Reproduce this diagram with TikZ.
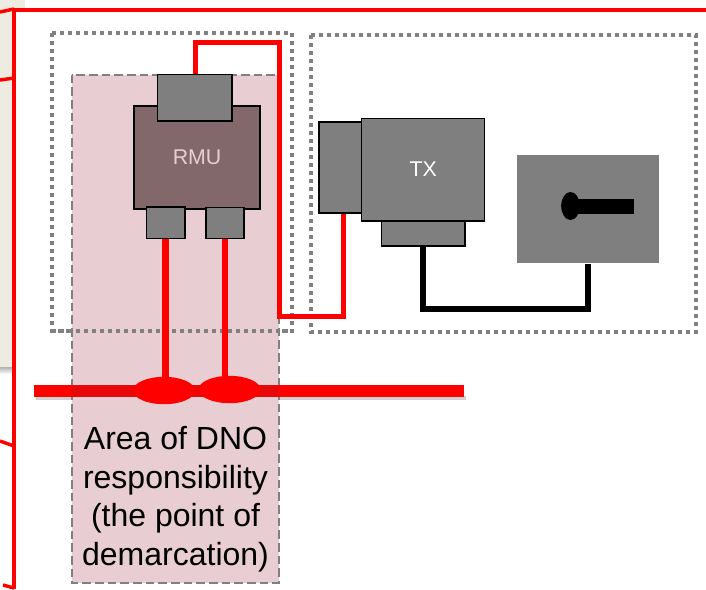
\documentclass[tikz,border=0pt]{standalone}
\usepackage{fontspec}
\setmainfont{Liberation Sans}
\usetikzlibrary{shapes.geometric}
\definecolor{beige}{RGB}{238,236,225}
\definecolor{pinkbox}{RGB}{232,206,210}
\definecolor{rmubody}{RGB}{130,104,106}
\definecolor{greybox}{RGB}{127,127,127}
\definecolor{dotgrey}{RGB}{128,128,128}
\definecolor{redline}{RGB}{255,0,0}
\definecolor{busdark}{RGB}{232,8,10}
\tikzset{
 x=0.75pt,y=-0.75pt,
 redwire/.style={draw=redline,line width=3.9pt,line cap=butt,line join=miter},
 thinred/.style={draw=redline,line width=2.6pt},
 blackwire/.style={draw=black,line width=3.8pt,line join=miter},
 part/.style={draw=black,line width=1.2pt,fill=greybox,inner sep=0pt,anchor=north west},
 softshadow/.style={draw=black!18,line width=#1},
 dotbox/.style={draw=dotgrey,line width=3pt,dash pattern=on 3pt off 3pt},
 dashbox/.style={draw=dotgrey,fill=pinkbox,line width=1.5pt,dash pattern=on 6.5pt off 3pt},
 joint/.style={ellipse,fill=redline,draw=none,inner sep=0pt,minimum width=46.5pt,minimum height=20.5pt},
 lab/.style={font=\fontsize{16pt}{19pt}\selectfont}
}
\begin{document}
\begin{tikzpicture}
\useasboundingbox (0,0) rectangle (706,589);
\fill[white] (0,0) rectangle (706,589);
\fill[beige] (0,0) rectangle (25,8);
\fill[beige] (0,8) rectangle (14,367);
\shade[top color=black!30,bottom color=white] (0,367) rectangle (14,374);
% frame
\draw[thinred,line width=3.2pt] (706,10) -- (14,10) -- (14,589);
\draw[thinred] (0,12) -- (14,9);
\draw[thinred] (0,80) -- (14,78);
\draw[thinred] (0,441) -- (14,446);
\draw[thinred] (3,585) -- (14,588);
% dotted boxes
\draw[dotbox] (52,33) rectangle (292,331);
\draw[dotbox] (311,35) rectangle (696,332);
% pink area
\draw[dashbox] (71.5,74.5) rectangle (279,583);
\draw[dotbox] (52,331) -- (292,331);
% bus
\draw[softshadow=3pt] (36,398) -- (71,398);
\draw[softshadow=3pt] (280,398) -- (466,398);
\draw[redwire,line width=9pt] (34,390.5) -- (464,390.5);
\fill[busdark] (71.5,384.5) rectangle (279,396.5);
\coordinate (busL) at (167,390);
\coordinate (busR) at (225,390);
% nodes
\node[part,fill=rmubody,line width=1.4pt,minimum width=94.3pt,minimum height=77pt,text=pinkbox,lab] (rmu) at (133.3,105.3) {RMU};
\node[part,minimum width=55.8pt,minimum height=34.6pt] (top) at (156.8,73.8) {};
\node[part,minimum width=28.6pt,minimum height=23.6pt] (sw1) at (145.8,206.3) {};
\node[part,minimum width=28.6pt,minimum height=23.2pt] (sw2) at (205.3,206.8) {};
\node[part,minimum width=32pt,minimum height=68pt] (txl) at (318.3,121.3) {};
\node[part,minimum width=62.6pt,minimum height=18.7pt] (txb) at (380.8,220.3) {};
\node[part,minimum width=92.3pt,minimum height=77pt,text=white,lab] (tx) at (360.8,117.5) {TX};
\node[fill=greybox,draw=none,inner sep=0pt,minimum width=106.5pt,minimum height=81pt,anchor=north west] (gen) at (517,155) {};
% earth symbol
\coordinate (barEnd) at (634,206.5);
\coordinate (barStart) at (575,206.5);
\draw[black,line width=11pt] (barStart) -- (barEnd);
\node[ellipse,fill=black,inner sep=0pt,minimum width=14pt,minimum height=21pt] (knob) at (570.5,206) {};
% wires
\coordinate (c1) at (195.5,42.5);
\coordinate (c2) at (279.7,42.5);
\coordinate (c3) at (279.7,316.5);
\coordinate (c4) at (343.5,316.5);
\coordinate (b1) at (423,309);
\coordinate (b2) at (588,309);
\draw[redwire] (top.north -| c1) -- (c1) -- (c2) -- (c3) -- (c4) -- (txl.south -| c4);
\draw[redwire,line width=4.9pt] (sw1.south) -- (sw1.south |- busL);
\draw[redwire,line width=4.9pt] (sw2.south) -- (sw2.south |- busR);
\draw[blackwire] (txb.south -| b1) -- (b1) -- (b2) -- (gen.south -| b2);
\node[joint] (j1) at (164,390.5) {};
\node[joint] (j2) at (229.5,389.5) {};
% label
\node[align=center,font=\fontsize{24pt}{28.9pt}\selectfont,text=black,inner sep=0pt] (arealabel) at (175.5,499) {Area of DNO\\responsibility\\(the point of\\demarcation)};
\end{tikzpicture}
\end{document}
